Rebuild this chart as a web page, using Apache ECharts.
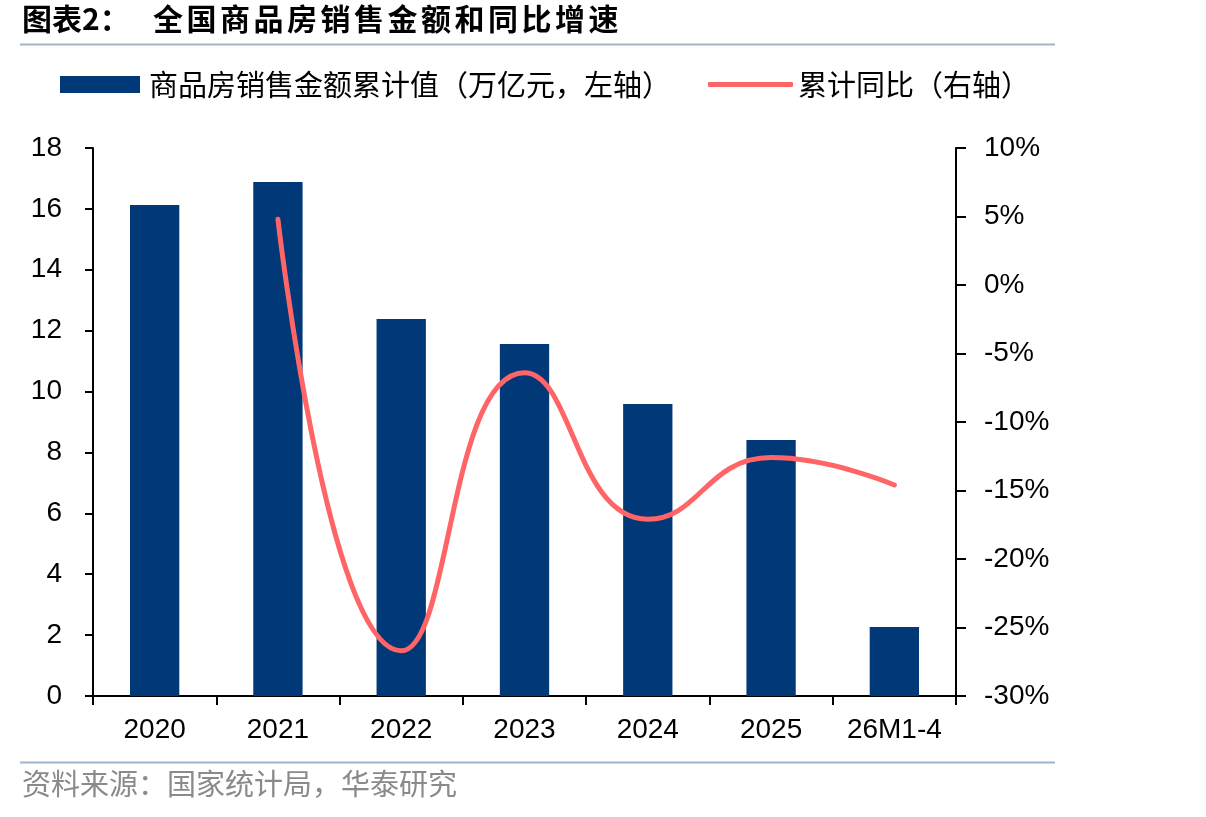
<!DOCTYPE html>
<html>
<head>
<meta charset="utf-8">
<script src="https://cdn.jsdelivr.net/npm/echarts@6/dist/echarts.min.js"></script>
<style>
html,body{margin:0;padding:0;background:#fff;}
#main{width:1206px;height:817px;}
</style>
</head>
<body>
<div id="main"></div>
<script>
// 数据
var categories = ['2020', '2021', '2022', '2023', '2024', '2025', '26M1-4'];
var salesValue = [16.13, 16.88, 12.38, 11.56, 9.59, 8.41, 2.27];
var salesYoY = [null, 4.8, -26.7, -6.4, -17.1, -12.6, -14.6];
var leftTicks = { min: 0, max: 18, interval: 2 };
var rightTicks = { min: -30, max: 10, interval: 5 };

var myChart = echarts.init(document.getElementById('main'));
var numFont = 'Liberation Sans, Arial, sans-serif';
var cnFont = 'Noto Sans CJK SC, sans-serif';

// 标题逐字排开（原图字距较宽）
var titleHead = '图表2：';
var titleBody = '全国商品房销售金额和同比增速';
var titleEls = [{
    type: 'text', left: 22, top: 4,
    style: { text: titleHead, font: 'bold 30px ' + cnFont, fill: '#000' }
}];
for (var i = 0; i < titleBody.length; i++) {
    titleEls.push({
        type: 'text', left: 153 + i * 33.5, top: 4,
        style: { text: titleBody[i], font: 'bold 30px ' + cnFont, fill: '#000' }
    });
}

var option = {
    backgroundColor: '#fff',
    animation: false,
    graphic: titleEls.concat([
        {
            type: 'line', shape: { x1: 20, y1: 44.5, x2: 1055, y2: 44.5 },
            style: { stroke: '#9fb5cc', lineWidth: 2 }
        },
        {
            type: 'line', shape: { x1: 20, y1: 762.5, x2: 1055, y2: 762.5 },
            style: { stroke: '#9fb5cc', lineWidth: 2 }
        },
        {
            type: 'text', left: 22, top: 769,
            style: { text: '资料来源：国家统计局，华泰研究', font: '29px ' + cnFont, fill: '#8a8a8a' }
        }
    ]),
    legend: [
        {
            left: 60, top: 70, padding: 0,
            itemWidth: 80, itemHeight: 17, itemGap: 12,
            icon: 'rect',
            textStyle: { fontSize: 29, fontFamily: cnFont, color: '#000', padding: [0, 0, 0, 4] },
            data: ['商品房销售金额累计值（万亿元，左轴）']
        },
        {
            left: 708, top: 70, padding: 0,
            itemWidth: 85, itemHeight: 5, itemGap: 8,
            icon: 'roundRect',
            textStyle: { fontSize: 29, fontFamily: cnFont, color: '#000', padding: [0, 0, 0, 0] },
            data: ['累计同比（右轴）']
        }
    ],
    grid: { left: 93, right: 250, top: 148, bottom: 121 },
    xAxis: {
        type: 'category',
        data: categories,
        axisLine: { lineStyle: { color: '#000', width: 2 } },
        axisTick: { show: true, length: 9, lineStyle: { color: '#000', width: 2 } },
        axisLabel: { interval: 0, fontSize: 28, fontFamily: numFont, color: '#000', margin: 20 }
    },
    yAxis: [
        {
            type: 'value',
            min: leftTicks.min, max: leftTicks.max, interval: leftTicks.interval,
            splitLine: { show: false },
            axisLine: { show: true, lineStyle: { color: '#000', width: 2 } },
            axisTick: { show: true, length: 8, lineStyle: { color: '#000', width: 2 } },
            axisLabel: { fontSize: 28, fontFamily: numFont, color: '#000', margin: 31 }
        },
        {
            type: 'value',
            min: rightTicks.min, max: rightTicks.max, interval: rightTicks.interval,
            splitLine: { show: false },
            axisLine: { show: true, lineStyle: { color: '#000', width: 2 } },
            axisTick: { show: true, length: 10, lineStyle: { color: '#000', width: 2 } },
            axisLabel: { fontSize: 28, fontFamily: numFont, color: '#000', margin: 28, formatter: '{value}%' }
        }
    ],
    series: [
        {
            name: '商品房销售金额累计值（万亿元，左轴）',
            type: 'bar',
            barWidth: '40%',
            itemStyle: { color: '#003878' },
            data: salesValue
        },
        {
            name: '累计同比（右轴）',
            type: 'line',
            yAxisIndex: 1,
            smooth: 0.5,
            symbol: 'none',
            lineStyle: { color: '#ff6466', width: 5, cap: 'round' },
            itemStyle: { color: '#ff6466' },
            data: salesYoY
        }
    ]
};

myChart.setOption(option);
</script>
</body>
</html>
